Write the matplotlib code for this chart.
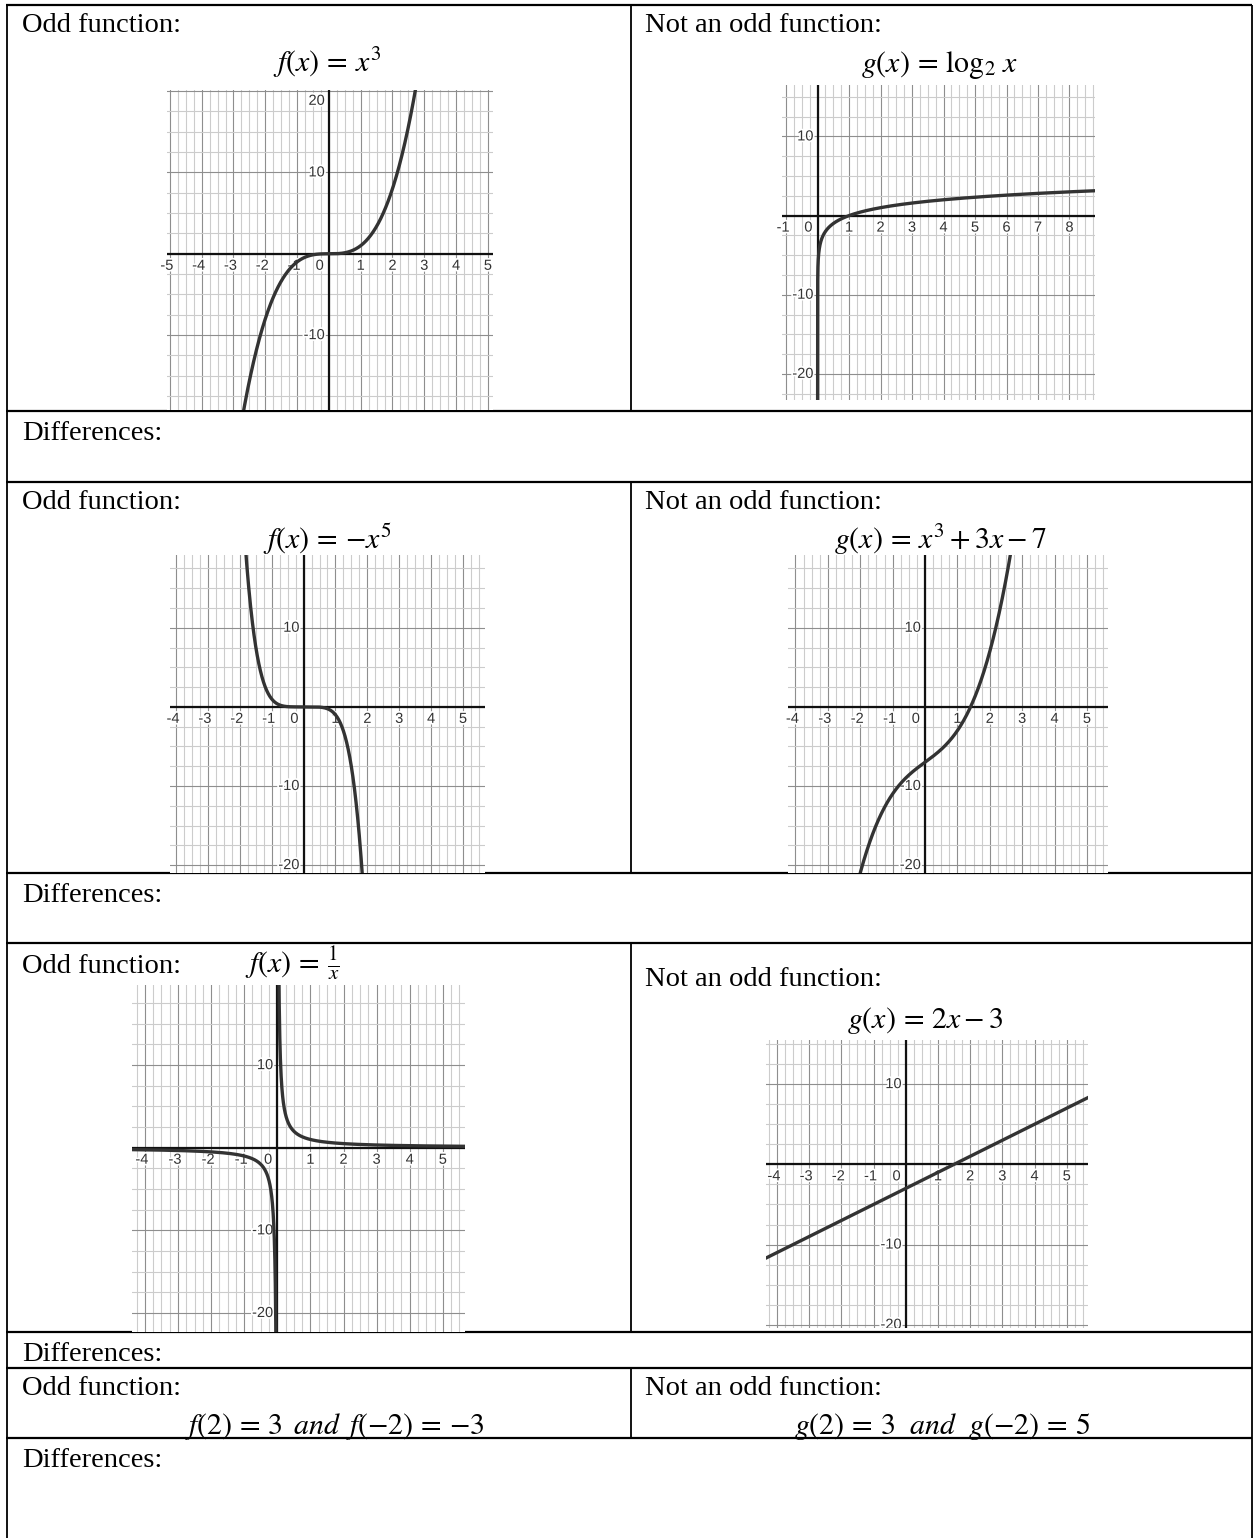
import numpy as np
import matplotlib.pyplot as plt
import matplotlib.patheffects as pe
from matplotlib.ticker import MultipleLocator

plt.rcParams['mathtext.fontset'] = 'stix'

W, H = 1254, 1538

# functions drawn in the worksheet
cube_coef = [1, 0, 0, 0]               # f(x) = x^3
log_base = 2                           # g(x) = log2 x
neg_fifth_coef = [-1, 0, 0, 0, 0, 0]   # f(x) = -x^5
cubic_coef = [1, 0, 3, -7]             # g(x) = x^3 + 3x - 7
recip_num = 1                          # f(x) = 1/x
line_coef = [2, -3]                    # g(x) = 2x - 3

# tick labels per graph
g1_xt = [-5, -4, -3, -2, -1, 1, 2, 3, 4, 5]
g1_yt = [20, 10, -10, -20]
g2_xt = [-1, 1, 2, 3, 4, 5, 6, 7, 8]
g2_yt = [10, -10, -20]
std_xt = [-4, -3, -2, -1, 1, 2, 3, 4, 5]
std_yt = [10, -10, -20]

fig = plt.figure(figsize=(W / 100, H / 100), dpi=100)
bg = fig.add_axes([0, 0, 1, 1])
bg.set_xlim(0, W)
bg.set_ylim(H, 0)
bg.axis('off')

SERIF = 'Liberation Serif'
TXT = 20.5
EQ = 21.5


def hline(y, x0=6, x1=1252):
    bg.plot([x0, x1], [y, y], color='black', lw=1.6, solid_capstyle='butt')


def vline(x, y0, y1):
    bg.plot([x, x], [y0, y1], color='black', lw=1.3, solid_capstyle='butt')


# table frame
for y in [5, 411, 482, 873, 943, 1332, 1368, 1438]:
    hline(y)
vline(6.5, 5, H)
vline(1252, 5, H)
for y0, y1 in [(5, 411), (482, 873), (943, 1332), (1368, 1438)]:
    vline(631, y0, y1)


def label(x, y, s):
    bg.text(x, y, s, fontsize=TXT, family=SERIF, va='baseline', ha='left')


def eq(x, y, s, ha='center'):
    bg.text(x, y, s, fontsize=EQ, va='baseline', ha=ha)


for top in [5, 482, 1368]:
    label(22, top + 27, 'Odd function:')
    label(645, top + 27, 'Not an odd function:')
label(22, 973, 'Odd function:')
label(645, 986, 'Not an odd function:')
for top in [411, 873, 1332, 1438]:
    label(22, top + 29, 'Differences:')

eq(327, 72, r'$f(x)\,=\,x^3$')
eq(940, 72, r'$g(x)\,=\,\log_2\,x$')
eq(327, 549, r'$f(x)\,=\,{-}x^5$')
eq(940, 549, r'$g(x)\,=\,x^3+3x-7$')
eq(245, 973, r'$f(x)\,=\,\frac{1}{x}$', ha='left')
eq(925, 1028, r'$g(x)\,=\,2x-3$')
eq(334, 1434, r'$f(2)\,=\,3\ \,and\ \,f({-}2)\,=\,{-}3$')
eq(942, 1434, r'$g(2)\,=\,3\ \ and\ \ g({-}2)\,=\,5$')


def panel(box, xlim, ylim, xt, yt, top_label=None):
    x0, y0, x1, y1 = box
    ax = fig.add_axes([x0 / W, 1 - y1 / H, (x1 - x0) / W, (y1 - y0) / H])
    ax.set_xlim(*xlim)
    ax.set_ylim(*ylim)
    ax.xaxis.set_major_locator(MultipleLocator(1))
    ax.xaxis.set_minor_locator(MultipleLocator(0.25))
    ax.yaxis.set_major_locator(MultipleLocator(10))
    ax.yaxis.set_minor_locator(MultipleLocator(2.5))
    ax.grid(which='minor', color='#cccccc', lw=0.8)
    ax.grid(which='major', color='#8e8e8e', lw=0.8)
    ax.tick_params(which='both', length=0, labelbottom=False, labelleft=False)
    for s in ax.spines.values():
        s.set_visible(False)
    ax.set_axisbelow(True)
    ax.axhline(0, color='#111111', lw=1.6, zorder=2)
    ax.axvline(0, color='#111111', lw=1.6, zorder=2)
    halo = [pe.withStroke(linewidth=2.5, foreground='white')]
    kw = dict(fontsize=10.5, family='Liberation Sans', color='#333333',
              path_effects=halo, zorder=3)
    for v in xt:
        dx = -3 if v < 0 else 0
        ax.annotate(str(v), (v, 0), xytext=(dx, -5), textcoords='offset pixels',
                    ha='center', va='top', clip_on=False, **kw)
    ax.annotate('0', (0, 0), xytext=(-5, -5), textcoords='offset pixels',
                ha='right', va='top', **kw)
    for v in yt:
        yy = top_label if (top_label is not None and v == yt[0] and v > 0) else v
        ax.annotate(str(v), (0, yy), xytext=(-4, 0), textcoords='offset pixels',
                    ha='right', va='center', clip_on=True, **kw)
    return ax


CURVE = dict(color='#333333', lw=2.4, solid_capstyle='round', zorder=4)

# f(x) = x^3
ax1 = panel((167, 90, 493, 410), (-5.09, 5.16), (-19.2, 20.13), g1_xt, g1_yt, top_label=18.8)
x = np.linspace(-5.1, 5.2, 800)
ax1.plot(x, np.polyval(cube_coef, x), **CURVE)

# g(x) = log2 x
ax2 = panel((782, 85, 1095, 400), (-1.13, 8.81), (-23.3, 16.5), g2_xt, g2_yt)
x = np.geomspace(2.0 ** -30, 9, 2000)
ax2.plot(x, np.log(x) / np.log(log_base), **CURVE)

# f(x) = -x^5
ax3 = panel((170, 555, 485, 873), (-4.19, 5.69), (-21.0, 19.2), std_xt, std_yt)
x = np.linspace(-4.2, 5.7, 1000)
ax3.plot(x, np.polyval(neg_fifth_coef, x), **CURVE)

# g(x) = x^3 + 3x - 7
ax4 = panel((788, 555, 1108, 873), (-4.23, 5.65), (-21.0, 19.2), std_xt, std_yt)
x = np.linspace(-4.3, 5.7, 1000)
ax4.plot(x, np.polyval(cubic_coef, x), **CURVE)

# f(x) = 1/x
ax5 = panel((132, 985, 465, 1332), (-4.39, 5.67), (-22.3, 19.7), std_xt, std_yt)
xn = np.linspace(-4.4, -0.03, 1000)
xp = np.linspace(0.03, 5.7, 1000)
ax5.plot(xn, recip_num / xn, **CURVE)
ax5.plot(xp, recip_num / xp, **CURVE)

# g(x) = 2x - 3
ax6 = panel((766, 1040, 1088, 1328), (-4.34, 5.66), (-20.4, 15.5), std_xt, std_yt)
x = np.linspace(-4.4, 5.7, 100)
ax6.plot(x, np.polyval(line_coef, x), **CURVE)

fig.savefig('out.png', dpi=100)
